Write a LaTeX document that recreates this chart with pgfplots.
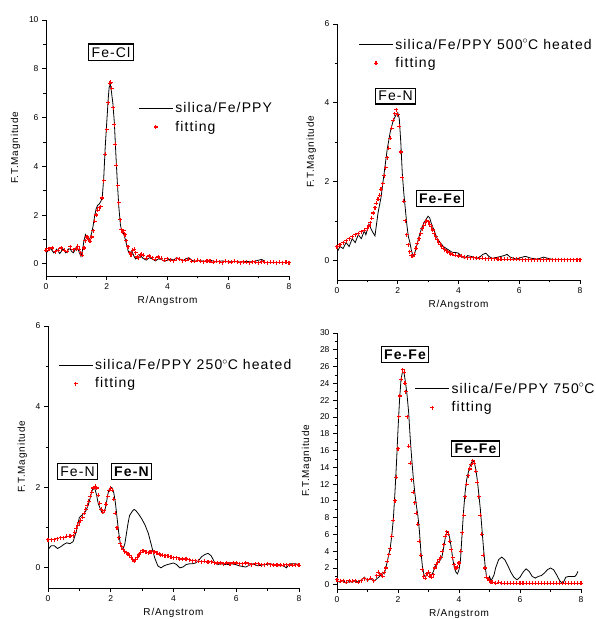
\documentclass[border=0pt]{standalone}
\usepackage{fontspec}
\setmainfont{Liberation Sans}
\newfontfamily\lsp[LetterSpace=8]{Liberation Sans}
\usepackage{pgfplots}
\pgfplotsset{compat=1.18}

\pgfplotsset{
  ft/.style={
    scale only axis, axis lines*=left, anchor=south west,
    xmin=0, xmax=8, xtick={0,2,...,8}, minor x tick num=1, minor y tick num=1,
    tick align=outside, major tick length=4pt, minor tick length=2.5pt,
    axis line style={line width=0.9pt},
    every tick/.style={line width=0.8pt, black},
    ticklabel style={font=\fontsize{8.5}{9}\selectfont},
    /pgf/number format/assume math mode=true,
    xlabel={R/Angstrom}, ylabel={F.T.Magnitude},
    label style={font=\lsp\fontsize{10}{11}\selectfont},
    ylabel style={yshift=2pt},
    legend style={draw=none, fill=none, anchor=north west, inner sep=0pt,
      font=\lsp\fontsize{14}{15}\selectfont, cells={anchor=west}, row sep=3pt},
  },
  ftdata/.style={black, line width=0.8pt,
    legend image code/.code={\draw[##1] (0pt,0pt) -- (34pt,0pt);}},
  ftfit/.style={red, only marks, mark=+, mark size=2pt, mark options={red, line width=1.1pt},
    legend image code/.code={\path[draw=none] (0pt,0pt) -- (34pt,0pt);
      \draw[red, mark=+, mark size=2pt, mark options={red, line width=1.1pt}]
        plot[only marks] coordinates {(17pt,0pt)};}},
}
\tikzset{
  ftbox/.style={draw, line width=1.1pt, inner sep=3pt, fill=white,
    font=\lsp\fontsize{14}{15}\selectfont},
  ftboxb/.style={ftbox, font=\lsp\bfseries\fontsize{14}{15}\selectfont},
}

\begin{document}
\begin{tikzpicture}[x=1pt,y=1pt]
\path[use as bounding box] (0,0) rectangle (596,619);

% top left: silica/Fe/PPY
\begin{axis}[ft, at={(46pt,343pt)}, width=243pt, height=256pt,
  ymin=-0.5, ymax=10, ytick={0,2,...,10}, legend style={at={(0.38,0.686)}}]
\addplot[ftdata] coordinates {
 (0.00,0.45) (0.05,0.50) (0.10,0.60) (0.15,0.62) (0.20,0.55) (0.25,0.45) (0.30,0.50) (0.35,0.60)
 (0.40,0.52) (0.45,0.42) (0.50,0.50) (0.55,0.62) (0.60,0.55) (0.65,0.45) (0.70,0.50) (0.75,0.62)
 (0.80,0.60) (0.85,0.50) (0.90,0.45) (0.95,0.55) (1.00,0.70) (1.05,0.62) (1.10,0.45) (1.15,0.30)
 (1.20,0.55) (1.25,0.95) (1.30,1.20) (1.35,1.05) (1.40,0.95) (1.45,1.05) (1.50,1.25) (1.55,1.55)
 (1.60,1.95) (1.65,2.25) (1.70,2.40) (1.75,2.45) (1.80,2.55) (1.85,2.70) (1.90,3.50) (1.95,4.80)
 (2.00,5.80) (2.05,6.80) (2.08,7.25) (2.12,7.35) (2.15,7.10) (2.20,6.60) (2.25,5.80) (2.30,4.50)
 (2.35,3.30) (2.40,2.30) (2.45,1.60) (2.50,1.30) (2.55,1.25) (2.60,1.05) (2.65,0.80) (2.70,0.55)
 (2.75,0.40) (2.80,0.50) (2.85,0.45) (2.90,0.30) (2.95,0.20) (3.00,0.25) (3.10,0.35) (3.20,0.22)
 (3.30,0.15) (3.40,0.25) (3.50,0.20) (3.60,0.12) (3.70,0.20) (3.80,0.18) (3.90,0.10) (4.00,0.15)
 (4.10,0.20) (4.20,0.15) (4.30,0.25) (4.40,0.20) (4.50,0.12) (4.60,0.20) (4.70,0.25) (4.80,0.15)
 (4.90,0.10) (5.00,0.15) (5.20,0.10) (5.40,0.15) (5.60,0.08) (5.80,0.12) (6.00,0.08) (6.20,0.10)
 (6.40,0.07) (6.60,0.10) (6.80,0.08) (7.00,0.15) (7.10,0.18) (7.20,0.10)};
\addlegendentry{silica/Fe/PPY}
\addplot[ftfit] coordinates {
 (0.0,0.55) (0.1,0.62) (0.2,0.65) (0.3,0.50) (0.4,0.55) (0.5,0.65) (0.6,0.55) (0.7,0.52)
 (0.8,0.70) (0.9,0.58) (1.0,0.62) (1.05,0.72) (1.1,0.60) (1.15,0.45) (1.2,0.35) (1.25,0.65)
 (1.3,0.95) (1.35,1.10) (1.4,1.00) (1.45,0.92) (1.5,1.10) (1.55,1.35) (1.6,1.75) (1.65,2.00)
 (1.7,2.20) (1.75,2.30) (1.8,2.35) (1.85,2.70) (1.9,3.40) (1.95,4.50) (2.0,5.50) (2.05,6.60)
 (2.1,7.40) (2.13,7.45) (2.17,7.20) (2.22,6.40) (2.25,5.70) (2.28,4.90) (2.32,4.05) (2.36,3.20)
 (2.40,2.50) (2.44,1.80) (2.48,1.40) (2.52,1.30) (2.56,1.35) (2.60,1.20) (2.65,0.95) (2.70,0.70)
 (2.75,0.45) (2.80,0.38) (2.85,0.55) (2.90,0.60) (2.95,0.45) (3.0,0.28) (3.05,0.25) (3.1,0.38)
 (3.15,0.40) (3.2,0.35) (3.3,0.22) (3.4,0.32) (3.5,0.25) (3.6,0.18) (3.7,0.28) (3.8,0.22)
 (3.9,0.15) (4.0,0.20) (4.1,0.15) (4.2,0.12) (4.3,0.20) (4.4,0.18) (4.5,0.12) (4.6,0.15)
 (4.7,0.18) (4.8,0.10) (4.9,0.10) (5.0,0.15) (5.1,0.10) (5.2,0.08) (5.3,0.12) (5.4,0.10)
 (5.5,0.06) (5.6,0.10) (5.7,0.08) (5.8,0.05) (5.9,0.10) (6.0,0.08) (6.1,0.06) (6.2,0.10)
 (6.3,0.08) (6.4,0.05) (6.5,0.08) (6.6,0.07) (6.7,0.05) (6.8,0.08) (6.9,0.07) (7.0,0.05)
 (7.1,0.08) (7.2,0.06) (7.3,0.05) (7.4,0.07) (7.5,0.06) (7.6,0.05) (7.7,0.06) (7.8,0.05)
 (7.9,0.06) (8.0,0.05)};
\addlegendentry{fitting}
\node[ftbox] at (axis cs:2.14,8.68) {Fe-Cl};
\end{axis}

% top right: 500 C heated
\begin{axis}[ft, at={(337pt,339pt)}, width=243pt, height=256pt,
  ymin=-0.5, ymax=6, ytick={0,2,...,6}, legend style={at={(0.088,0.95)}}]
\addplot[ftdata] coordinates {
 (0.00,0.20) (0.10,0.35) (0.20,0.30) (0.30,0.45) (0.40,0.35) (0.50,0.55) (0.60,0.45) (0.70,0.65)
 (0.80,0.55) (0.90,0.75) (0.95,0.65) (1.05,0.92) (1.15,0.75) (1.25,0.62) (1.35,1.20) (1.45,1.60)
 (1.55,2.20) (1.65,2.80) (1.75,3.25) (1.85,3.55) (1.95,3.70) (2.00,3.75) (2.05,3.60) (2.10,3.00)
 (2.15,2.20) (2.20,1.70) (2.25,1.30) (2.30,0.90) (2.35,0.60) (2.40,0.45) (2.45,0.25) (2.50,0.12)
 (2.55,0.15) (2.60,0.30) (2.70,0.60) (2.80,0.85) (2.90,1.00) (3.00,1.12) (3.05,1.08) (3.10,0.95)
 (3.20,0.75) (3.30,0.55) (3.40,0.45) (3.50,0.35) (3.60,0.30) (3.70,0.25) (3.80,0.20) (3.90,0.20)
 (4.00,0.18) (4.10,0.10) (4.20,0.05) (4.30,0.12) (4.40,0.10) (4.50,0.08) (4.60,0.05) (4.70,0.08)
 (4.80,0.15) (4.90,0.18) (5.00,0.10) (5.10,0.05) (5.30,0.08) (5.50,0.12) (5.60,0.15) (5.70,0.08)
 (5.90,0.03) (6.10,0.08) (6.20,0.10) (6.40,0.05) (6.60,0.03) (6.80,0.08) (6.90,0.06) (7.10,0.02)};
\addlegendentry{silica/Fe/PPY 500$^{\circ}$C heated}
\addplot[ftfit] coordinates {
 (0.0,0.35) (0.1,0.40) (0.2,0.45) (0.3,0.50) (0.4,0.55) (0.5,0.60) (0.6,0.65) (0.7,0.68)
 (0.8,0.72) (0.9,0.76) (1.0,0.80) (1.05,0.87) (1.1,0.95) (1.15,1.07) (1.2,1.20) (1.25,1.33)
 (1.3,1.45) (1.35,1.55) (1.4,1.65) (1.45,1.80) (1.5,1.95) (1.55,2.15) (1.6,2.35) (1.65,2.60)
 (1.7,2.85) (1.75,3.10) (1.8,3.35) (1.85,3.55) (1.9,3.72) (1.95,3.82) (2.0,3.70) (2.05,3.40)
 (2.1,2.75) (2.15,2.10) (2.2,1.50) (2.25,1.00) (2.3,0.65) (2.35,0.40) (2.4,0.22) (2.45,0.12)
 (2.5,0.10) (2.55,0.15) (2.6,0.30) (2.65,0.43) (2.7,0.55) (2.75,0.68) (2.8,0.80) (2.85,0.88)
 (2.9,0.95) (2.95,1.00) (3.0,0.98) (3.05,0.92) (3.1,0.85) (3.15,0.77) (3.2,0.68) (3.25,0.60)
 (3.3,0.52) (3.35,0.46) (3.4,0.40) (3.45,0.35) (3.5,0.30) (3.55,0.27) (3.6,0.24) (3.65,0.21)
 (3.7,0.19) (3.75,0.17) (3.8,0.15) (3.9,0.13) (4.0,0.11) (4.1,0.10) (4.2,0.08) (4.3,0.07)
 (4.4,0.07) (4.5,0.06) (4.6,0.05) (4.7,0.05) (4.8,0.05) (4.9,0.04) (5.0,0.04) (5.1,0.04)
 (5.2,0.04) (5.3,0.03) (5.4,0.03) (5.5,0.03) (5.6,0.03) (5.7,0.03) (5.8,0.03) (5.9,0.03)
 (6.0,0.03) (6.1,0.02) (6.2,0.02) (6.3,0.02) (6.4,0.02) (6.5,0.02) (6.6,0.02) (6.7,0.02)
 (6.8,0.02) (6.9,0.02) (7.0,0.02) (7.1,0.02) (7.2,0.02) (7.3,0.02) (7.4,0.02) (7.5,0.02)
 (7.6,0.02) (7.7,0.02) (7.8,0.02) (7.9,0.02) (8.0,0.02)};
\addlegendentry{fitting}
\node[ftbox] at (axis cs:1.93,4.17) {Fe-N};
\node[ftboxb] at (axis cs:3.39,1.57) {Fe-Fe};
\end{axis}

% bottom left: 250 C heated
\begin{axis}[ft, at={(48pt,31pt)}, width=251pt, height=262pt,
  ymin=-0.5, ymax=6, ytick={0,2,...,6}, legend style={at={(0.04,0.882)}}]
\addplot[ftdata] coordinates {
 (0.0,0.45) (0.1,0.55) (0.2,0.55) (0.3,0.48) (0.4,0.52) (0.5,0.58) (0.6,0.62) (0.7,0.60)
 (0.8,0.65) (0.9,0.90) (1.0,1.25) (1.1,1.32) (1.2,1.40) (1.3,1.60) (1.4,1.90) (1.45,2.00)
 (1.5,1.95) (1.55,1.80) (1.6,1.60) (1.7,1.40) (1.75,1.35) (1.8,1.40) (1.85,1.55) (1.9,1.80)
 (1.95,1.95) (2.0,2.00) (2.05,1.98) (2.1,1.85) (2.15,1.60) (2.2,1.25) (2.25,0.90) (2.3,0.62)
 (2.35,0.50) (2.4,0.48) (2.45,0.60) (2.5,0.85) (2.55,1.10) (2.6,1.30) (2.7,1.42) (2.75,1.45)
 (2.8,1.42) (2.9,1.32) (3.0,1.20) (3.1,1.05) (3.2,0.85) (3.3,0.55) (3.4,0.25) (3.5,0.05)
 (3.6,0.00) (3.7,0.05) (3.8,0.08) (3.9,0.10) (4.0,0.12) (4.1,0.08) (4.2,0.00) (4.3,0.02)
 (4.4,0.08) (4.5,0.10) (4.6,0.10) (4.7,0.12) (4.8,0.18) (4.9,0.28) (5.0,0.33) (5.1,0.36)
 (5.2,0.30) (5.3,0.15) (5.4,0.08) (5.5,0.10) (5.7,0.08) (5.9,0.10) (6.1,0.05) (6.3,0.02)
 (6.5,0.10) (6.7,0.05) (6.9,0.08) (7.1,0.10) (7.3,0.05) (7.5,0.05) (7.6,0.00) (7.7,0.10)
 (7.9,0.10) (8.0,0.08)};
\addlegendentry{silica/Fe/PPY 250$^{\circ}$C heated}
\addplot[ftfit] coordinates {
 (0.0,0.70) (0.1,0.70) (0.2,0.70) (0.3,0.72) (0.4,0.75) (0.5,0.75) (0.6,0.78) (0.7,0.78)
 (0.8,0.80) (0.85,0.88) (0.9,0.98) (0.95,1.06) (1.0,1.12) (1.05,1.18) (1.1,1.25) (1.15,1.35)
 (1.2,1.45) (1.25,1.55) (1.3,1.65) (1.35,1.78) (1.4,1.88) (1.45,1.98) (1.5,2.02) (1.55,1.98)
 (1.6,1.80) (1.65,1.60) (1.7,1.45) (1.75,1.38) (1.8,1.42) (1.85,1.58) (1.9,1.78) (1.95,1.92)
 (2.0,1.97) (2.05,1.92) (2.1,1.70) (2.15,1.35) (2.2,1.00) (2.25,0.75) (2.3,0.60) (2.35,0.52)
 (2.4,0.45) (2.45,0.40) (2.5,0.38) (2.55,0.35) (2.6,0.30) (2.65,0.25) (2.7,0.20) (2.75,0.17)
 (2.8,0.20) (2.85,0.26) (2.9,0.32) (2.95,0.38) (3.0,0.42) (3.05,0.42) (3.1,0.40) (3.15,0.39)
 (3.2,0.38) (3.25,0.39) (3.3,0.40) (3.35,0.40) (3.4,0.40) (3.45,0.38) (3.5,0.36) (3.55,0.34)
 (3.6,0.32) (3.65,0.31) (3.7,0.30) (3.75,0.30) (3.8,0.30) (3.85,0.29) (3.9,0.28) (3.95,0.26)
 (4.0,0.25) (4.1,0.25) (4.2,0.22) (4.3,0.22) (4.4,0.22) (4.5,0.20) (4.6,0.18) (4.7,0.18)
 (4.8,0.16) (4.9,0.15) (5.0,0.16) (5.1,0.14) (5.2,0.15) (5.3,0.13) (5.4,0.12) (5.5,0.12)
 (5.6,0.10) (5.7,0.12) (5.8,0.10) (5.9,0.12) (6.0,0.12) (6.1,0.10) (6.2,0.10) (6.3,0.12)
 (6.4,0.10) (6.5,0.08) (6.6,0.10) (6.7,0.10) (6.8,0.08) (6.9,0.08) (7.0,0.10) (7.1,0.08)
 (7.2,0.07) (7.3,0.08) (7.4,0.07) (7.5,0.06) (7.6,0.08) (7.7,0.07) (7.8,0.06) (7.9,0.08)
 (8.0,0.06)};
\addlegendentry{fitting}
\node[ftbox] at (axis cs:0.94,2.39) {Fe-N};
\node[ftboxb] at (axis cs:2.66,2.39) {Fe-N};
\end{axis}

% bottom right: 750 C
\begin{axis}[ft, at={(337pt,30pt)}, width=244pt, height=256pt,
  ymin=-0.5, ymax=30, ytick={0,2,...,30}, legend style={at={(0.318,0.813)}}]
\addplot[ftdata] coordinates {
 (0.0,0.5) (0.1,0.3) (0.2,0.5) (0.3,0.2) (0.4,0.4) (0.5,0.3) (0.6,0.5) (0.7,0.3)
 (0.8,0.6) (0.9,0.9) (1.0,0.5) (1.1,0.8) (1.2,0.4) (1.3,0.7) (1.4,1.0) (1.5,1.5)
 (1.55,1.3) (1.6,2.0) (1.65,2.8) (1.7,3.6) (1.75,4.5) (1.8,6.0) (1.85,8.0) (1.9,11.0)
 (1.95,14.5) (2.0,18.5) (2.05,22.0) (2.1,24.5) (2.15,25.4) (2.2,25.2) (2.25,24.0) (2.3,22.5)
 (2.35,20.5) (2.4,17.5) (2.45,15.0) (2.5,12.8) (2.55,11.0) (2.6,9.5) (2.65,8.3) (2.7,6.5)
 (2.75,4.0) (2.8,2.2) (2.85,1.2) (2.9,0.9) (2.95,1.3) (3.0,1.5) (3.05,1.1) (3.1,1.2)
 (3.15,1.5) (3.2,2.0) (3.25,2.4) (3.3,2.6) (3.35,2.8) (3.4,3.0) (3.45,3.5) (3.5,4.5)
 (3.55,5.6) (3.6,6.3) (3.65,6.2) (3.7,5.5) (3.75,4.3) (3.8,3.0) (3.85,2.0) (3.9,1.5)
 (3.95,1.3) (4.0,1.8) (4.05,3.0) (4.1,6.0) (4.15,8.8) (4.2,11.0) (4.25,12.5) (4.3,13.3)
 (4.35,14.0) (4.4,14.5) (4.45,14.8) (4.5,14.6) (4.55,13.8) (4.6,12.5) (4.65,10.8) (4.7,9.0)
 (4.75,6.8) (4.8,4.5) (4.85,2.5) (4.9,1.0) (4.95,0.6) (5.0,1.0) (5.05,0.5) (5.1,0.8)
 (5.15,1.2) (5.2,2.0) (5.3,3.0) (5.4,3.3) (5.5,3.0) (5.6,2.3) (5.7,1.5) (5.8,0.9)
 (5.9,0.6) (6.0,0.9) (6.1,1.5) (6.2,1.9) (6.3,1.6) (6.4,1.0) (6.5,0.8) (6.6,1.0)
 (6.7,1.1) (6.8,1.4) (6.9,1.8) (7.0,2.0) (7.1,1.8) (7.2,1.2) (7.3,0.5) (7.4,0.1)
 (7.5,0.9) (7.6,1.0) (7.7,1.0) (7.8,1.0) (7.85,1.2) (7.9,1.6)};
\addlegendentry{silica/Fe/PPY 750$^{\circ}$C}
\addplot[ftfit] coordinates {
 (0.0,0.6) (0.1,0.4) (0.2,0.5) (0.3,0.3) (0.4,0.5) (0.5,0.4) (0.6,0.5) (0.7,0.3)
 (0.8,0.5) (0.9,0.7) (1.0,0.6) (1.1,0.8) (1.2,0.5) (1.3,1.1) (1.35,1.5) (1.4,1.3)
 (1.45,1.2) (1.5,1.0) (1.55,1.5) (1.6,2.0) (1.65,2.8) (1.7,3.6) (1.75,4.3) (1.8,5.8)
 (1.85,7.7) (1.9,10.0) (1.95,12.8) (2.0,16.2) (2.03,20.0) (2.06,22.5) (2.1,24.5) (2.15,25.6)
 (2.2,25.3) (2.23,24.0) (2.26,23.0) (2.3,20.0) (2.35,16.5) (2.4,14.5) (2.45,12.5) (2.5,11.0)
 (2.55,9.8) (2.6,8.5) (2.65,7.2) (2.7,5.2) (2.75,3.5) (2.8,1.8) (2.85,1.0) (2.9,0.8)
 (2.95,1.3) (3.0,1.5) (3.05,1.0) (3.1,0.9) (3.15,1.2) (3.2,2.0) (3.25,2.4) (3.3,2.7)
 (3.35,3.0) (3.4,3.3) (3.45,4.0) (3.5,4.8) (3.55,5.8) (3.6,6.3) (3.65,6.0) (3.7,5.2)
 (3.75,4.2) (3.8,3.2) (3.85,2.4) (3.9,2.0) (3.95,2.1) (4.0,2.6) (4.05,4.0) (4.1,6.2)
 (4.15,8.3) (4.2,10.5) (4.25,12.0) (4.3,13.0) (4.35,13.8) (4.4,14.3) (4.45,14.8) (4.5,14.5)
 (4.55,13.5) (4.6,12.2) (4.65,10.5) (4.7,8.3) (4.75,6.0) (4.8,3.5) (4.85,2.0) (4.9,0.9)
 (4.95,0.7) (5.0,0.5) (5.05,0.3) (5.1,0.3) (5.2,0.2) (5.3,0.3) (5.4,0.2) (5.5,0.2)
 (5.6,0.2) (5.7,0.2) (5.8,0.2) (5.9,0.2) (6.0,0.2) (6.1,0.2) (6.2,0.2) (6.3,0.2)
 (6.4,0.2) (6.5,0.2) (6.6,0.2) (6.7,0.2) (6.8,0.2) (6.9,0.2) (7.0,0.2) (7.1,0.2)
 (7.2,0.2) (7.3,0.2) (7.4,0.2) (7.5,0.2) (7.6,0.2) (7.7,0.2) (7.8,0.2) (7.9,0.2) (8.0,0.2)};
\addlegendentry{fitting}
\node[ftboxb] at (axis cs:2.23,27.45) {Fe-Fe};
\node[ftboxb] at (axis cs:4.54,16.19) {Fe-Fe};
\end{axis}
\end{tikzpicture}
\end{document}
